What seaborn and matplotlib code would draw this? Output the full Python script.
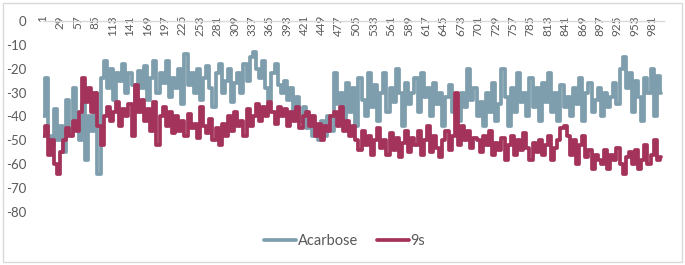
import numpy as np
import pandas as pd
import matplotlib.pyplot as plt
import seaborn as sns
from matplotlib.patches import Rectangle

# values, one point every 5 frames
frames = list(range(1, 1001, 5))

acarbose = [
    -40, -24, -48, -52, -37, -50, -44, -55, -33, -47,
    -28, -42, -50, -35, -58, -40, -46, -30, -64, -24,
    -17, -28, -20, -33, -22, -25, -18, -30, -22, -27,
    -35, -21, -28, -19, -33, -24, -17, -30, -22, -26,
    -17, -32, -24, -28, -20, -35, -14, -27, -22, -30,
    -20, -33, -24, -19, -28, -36, -22, -18, -30, -25,
    -20, -34, -26, -22, -30, -18, -25, -15, -13, -20,
    -24, -17, -28, -33, -22, -18, -27, -30, -25, -33,
    -28, -38, -32, -42, -36, -45, -40, -48, -44, -50,
    -42, -48, -40, -46, -22, -35, -30, -42, -26, -38,
    -28, -44, -24, -33, -40, -22, -36, -27, -42, -30,
    -22, -38, -28, -34, -20, -30, -44, -26, -35, -30,
    -24, -38, -22, -32, -28, -40, -26, -35, -30, -44,
    -32, -27, -38, -34, -42, -30, -36, -20, -33, -28,
    -40, -34, -44, -30, -38, -26, -42, -35, -20, -32,
    -44, -28, -38, -22, -34, -30, -40, -24, -36, -28,
    -42, -26, -34, -22, -38, -30, -42, -27, -36, -32,
    -40, -28, -35, -24, -42, -30, -26, -38, -33, -28,
    -40, -30, -36, -32, -26, -35, -20, -15, -28, -22,
    -38, -25, -32, -42, -24, -30, -20, -40, -23, -30,
]

s9 = [
    -48, -44, -56, -50, -60, -64, -55, -50, -45, -48,
    -42, -46, -38, -24, -34, -28, -38, -30, -44, -52,
    -40, -36, -42, -38, -34, -44, -37, -40, -35, -48,
    -27, -38, -33, -42, -37, -46, -34, -52, -40, -36,
    -44, -38, -47, -40, -46, -42, -48, -39, -45, -43,
    -49, -36, -44, -47, -41, -50, -45, -52, -43, -48,
    -40, -46, -38, -44, -42, -48, -37, -44, -40, -35,
    -42, -36, -40, -34, -38, -43, -36, -40, -37, -44,
    -38, -42, -36, -45, -40, -38, -44, -40, -48, -43,
    -50, -44, -46, -40, -38, -44, -36, -46, -42, -48,
    -44, -50, -54, -46, -52, -48, -56, -50, -45, -53,
    -50, -56, -47, -54, -49, -57, -51, -46, -55, -49,
    -52, -46, -56, -50, -44, -55, -48, -53, -57, -50,
    -46, -54, -48, -30, -52, -44, -50, -46, -53, -49,
    -50, -55, -48, -52, -46, -56, -51, -54, -49, -58,
    -52, -48, -56, -50, -54, -47, -53, -58, -51, -55,
    -50, -56, -52, -48, -58, -53, -50, -45, -44, -48,
    -56, -50, -60, -52, -48, -57, -54, -62, -56, -58,
    -60, -54, -62, -56, -58, -53, -60, -64, -57, -55,
    -60, -54, -62, -58, -52, -60, -56, -50, -58, -57,
]

series_names = ["Acarbose", "9s"]
colors = ["#7F9EAD", "#A3335A"]
x_ticks = list(range(1, 1001, 28))
y_ticks = [0, -10, -20, -30, -40, -50, -60, -70, -80]

df = pd.concat([
    pd.DataFrame({"frame": frames, "value": acarbose, "series": "Acarbose"}),
    pd.DataFrame({"frame": frames, "value": s9, "series": "9s"}),
])

sns.set_theme(style="white")
plt.rcParams["font.family"] = ["Lato", "DejaVu Sans"]

fig = plt.figure(figsize=(6.85, 2.65), dpi=100)
ax = fig.add_axes([0.0628, 0.199, 0.9065, 0.723])

sns.lineplot(data=df, x="frame", y="value", hue="series", hue_order=series_names,
             palette=colors, linewidth=2.7, drawstyle="steps-mid", ax=ax)

ax.set_xlim(1, 1000)
ax.set_ylim(-80, 0)
ax.set_xlabel("")
ax.set_ylabel("")

ax.set_yticks(y_ticks)
ax.set_yticklabels([str(v) for v in y_ticks], color="#595959", fontsize=9.5)
ax.set_xticks(x_ticks, [str(v) for v in x_ticks], rotation=90, va="top",
              color="#595959", fontsize=8.5)
ax.tick_params(axis="x", bottom=False, top=False, labelbottom=False,
               labeltop=True, pad=-2)
ax.tick_params(axis="y", left=False, pad=6)

for side in ["left", "right", "bottom"]:
    ax.spines[side].set_visible(False)
ax.spines["top"].set_color("#D9D9D9")
ax.spines["top"].set_linewidth(1)

ax.legend(loc="center", bbox_to_anchor=(0.503, 0.09), bbox_transform=fig.transFigure,
          ncol=2, frameon=False, fontsize=10.5, handlelength=2.2, handletextpad=0.1,
          columnspacing=1.3, labelcolor="#595959")

fig.patches.append(Rectangle((3 / 685, 3 / 265), 679 / 685, 259 / 265,
                             transform=fig.transFigure, fill=False,
                             edgecolor="#D9D9D9", linewidth=1))

fig.savefig("out.png", dpi=100)
